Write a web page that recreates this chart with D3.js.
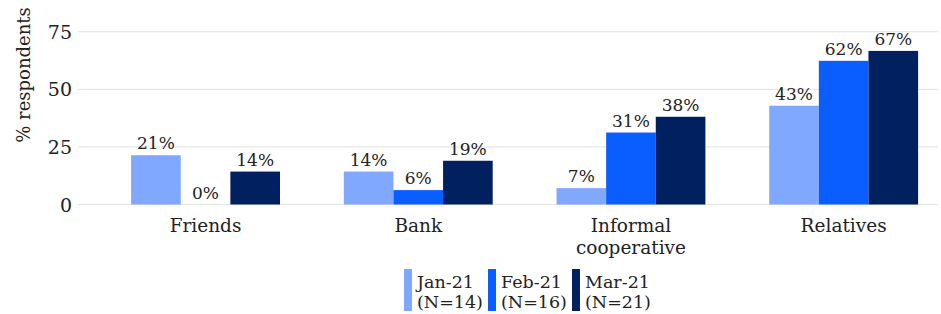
<!DOCTYPE html>
<html>
<head>
<meta charset="utf-8">
<script src="https://cdn.jsdelivr.net/npm/d3@7"></script>
<style>
  body { margin: 0; background: #fff; }
  text { font-family: "DejaVu Serif", serif; fill: #222; }
</style>
</head>
<body>
<div id="chart"></div>
<script>
var categories = ["Friends", "Bank", "Informal cooperative", "Relatives"];
var seriesNames = ["Jan-21", "Feb-21", "Mar-21"];
var seriesN = ["(N=14)", "(N=16)", "(N=21)"];
var jan21 = [21.4, 14.3, 7.1, 42.9];
var feb21 = [0, 6.25, 31.25, 62.4];
var mar21 = [14.3, 19.0, 38.1, 66.7];
var yTicks = [0, 25, 50, 75];
var colors = ["#80a8ff", "#0a5dff", "#002060"];

var width = 941, height = 314;
var seriesValues = [jan21, feb21, mar21];

var svg = d3.select("#chart")
  .append("svg")
  .attr("width", width)
  .attr("height", height);

var y = d3.scaleLinear().domain([0, 75]).range([204.5, 31.8]);

var x0 = d3.scaleBand()
  .domain(categories)
  .range([99.2, 950])
  .paddingInner(0.3)
  .paddingOuter(0.15);

var x1 = d3.scaleBand()
  .domain(d3.range(seriesNames.length))
  .range([0, x0.bandwidth()]);

// gridlines + tick labels
svg.append("g")
  .selectAll("line")
  .data(yTicks)
  .enter()
  .append("line")
  .attr("x1", 78).attr("x2", 938)
  .attr("y1", function(d) { return y(d); })
  .attr("y2", function(d) { return y(d); })
  .attr("stroke", "#e3e3e3")
  .attr("stroke-width", 1);

svg.append("g")
  .selectAll("text")
  .data(yTicks)
  .enter()
  .append("text")
  .attr("x", 72)
  .attr("y", function(d) { return y(d) + 7; })
  .attr("text-anchor", "end")
  .attr("font-size", 19)
  .text(function(d) { return d; });

svg.append("text")
  .attr("transform", "translate(30,75) rotate(-90)")
  .attr("text-anchor", "middle")
  .attr("font-size", 18)
  .text("% respondents");

// bars
var rows = [];
categories.forEach(function(c, ci) {
  seriesValues.forEach(function(vals, si) {
    rows.push({ cat: c, s: si, v: vals[ci] });
  });
});

svg.append("g")
  .selectAll("rect")
  .data(rows)
  .enter()
  .append("rect")
  .attr("x", function(d) { return x0(d.cat) + x1(d.s); })
  .attr("y", function(d) { return y(d.v); })
  .attr("width", x1.bandwidth())
  .attr("height", function(d) { return y(0) - y(d.v); })
  .attr("fill", function(d) { return colors[d.s]; });

svg.append("g")
  .selectAll("text")
  .data(rows)
  .enter()
  .append("text")
  .attr("x", function(d) { return x0(d.cat) + x1(d.s) + x1.bandwidth() / 2; })
  .attr("y", function(d) { return y(d.v) - 6; })
  .attr("text-anchor", "middle")
  .attr("font-size", 17)
  .text(function(d) { return Math.round(d.v) + "%"; });

// category labels
var catLabels = svg.append("g")
  .selectAll("text")
  .data(categories)
  .enter()
  .append("text")
  .attr("text-anchor", "middle")
  .attr("font-size", 18.5)
  .attr("x", function(d) { return x0(d) + x0.bandwidth() / 2; })
  .attr("y", 232);

catLabels.each(function(d) {
  var lines = d === "Informal cooperative" ? ["Informal", "cooperative"] : [d];
  var t = d3.select(this);
  lines.forEach(function(line, i) {
    t.append("tspan")
      .attr("x", x0(d) + x0.bandwidth() / 2)
      .attr("dy", i === 0 ? 0 : 22)
      .text(line);
  });
});

// legend
var legendX = [404, 488, 572];
var legend = svg.append("g")
  .selectAll("g")
  .data(seriesNames)
  .enter()
  .append("g")
  .attr("transform", function(d, i) { return "translate(" + legendX[i] + ",269)"; });

legend.append("rect")
  .attr("width", 8)
  .attr("height", 42)
  .attr("fill", function(d, i) { return colors[i]; });

legend.append("text")
  .attr("x", 13)
  .attr("y", 19)
  .attr("font-size", 17.5)
  .text(function(d) { return d; });

legend.append("text")
  .attr("x", 13)
  .attr("y", 39)
  .attr("font-size", 17.5)
  .text(function(d, i) { return seriesN[i]; });
</script>
</body>
</html>
